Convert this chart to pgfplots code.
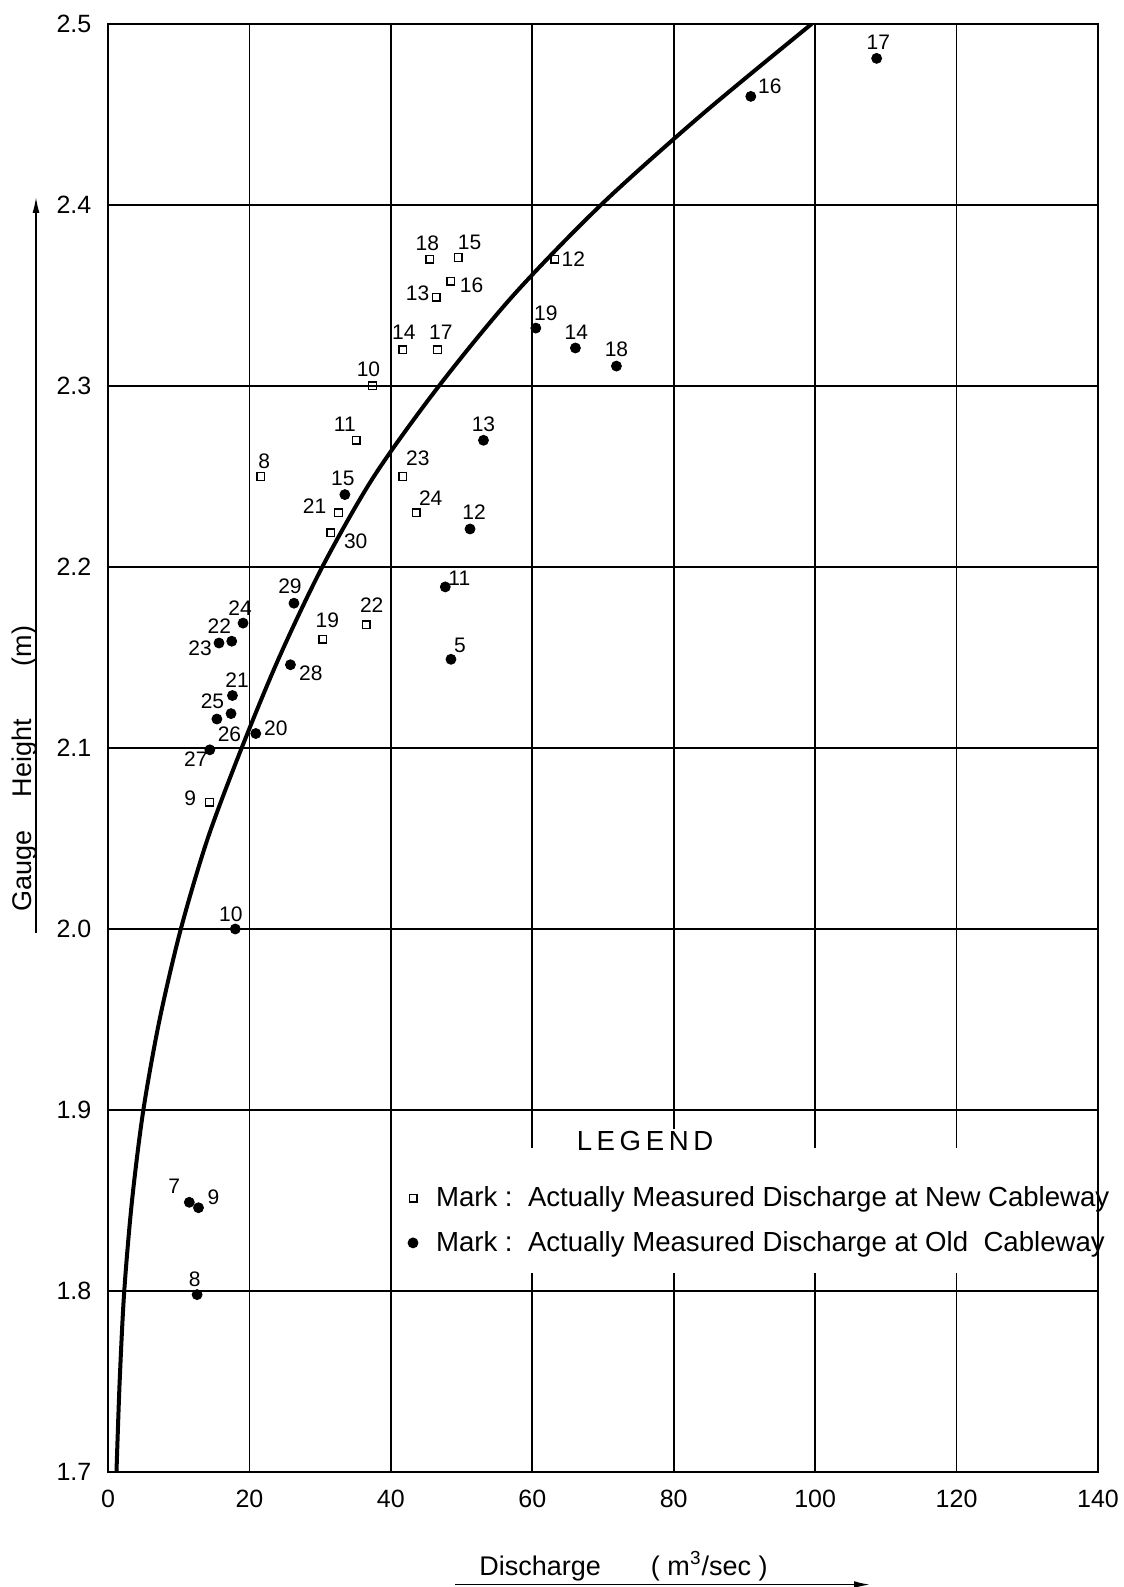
\documentclass[border=0pt]{standalone}
\usepackage{fontspec}
\setmainfont{Liberation Sans}
\usepackage{pgfplots}
\pgfplotsset{compat=1.18}
\usetikzlibrary{arrows.meta}
\newcommand\ptf{\fontsize{10.5}{12}\selectfont}
\newcommand\tkf{\fontsize{12.5}{15}\selectfont}
\newcommand\legf{\fontsize{13.8}{16.5}\selectfont}
\newcommand\labf{\fontsize{13.5}{16}\selectfont}
\newcommand\lbl[5]{\node[font=\ptf,inner sep=0pt,xshift=#3pt,yshift=#4pt] at (axis cs:#1,#2) {#5};}

\begin{document}
\begin{tikzpicture}
\begin{axis}[
 at={(0pt,0pt)}, anchor=south west,
 scale only axis, width=495pt, height=724pt,
 xmin=0, xmax=140, ymin=1.7, ymax=2.5,
 xtick={0,20,...,140},
 ytick={1.7,1.8,1.9,2.0,2.1,2.2,2.3,2.4,2.5},
 grid=major, major grid style={black, line width=0.8pt},
 axis line style={black, line width=1pt},
 tick style={draw=none},
 ticklabel style={font=\tkf},
 /pgf/number format/assume math mode=true,
 yticklabel style={/pgf/number format/fixed, /pgf/number format/fixed zerofill, /pgf/number format/precision=1, xshift=-4.8pt},
 xticklabel style={yshift=-5.3pt},
 legend style={at={(axis cs:42.37,1.8389)}, anchor=west, draw=none, fill=none,
   inner sep=0pt, row sep=10.8pt, column sep=9pt,
   nodes={inner sep=0pt, font=\legf}},
 legend cell align=left,
 legend image code/.code={\draw[#1] plot coordinates {(0pt,0pt)};},
]
% white gap in the grid behind the legend
\fill[white] (axis cs:40.4,1.81) rectangle (axis cs:139.5,1.879);

% rating curve
\addplot[smooth, line width=2pt, black, forget plot] coordinates {
 (1.2,1.70) (1.65,1.75) (2.3,1.80) (3.4,1.85) (5.0,1.90) (7.3,1.95)
 (10.3,2.00) (14.1,2.05) (18.9,2.10) (24.2,2.15) (30.3,2.20) (37.6,2.25)
 (46.8,2.30) (57.3,2.35) (69.7,2.40) (84.0,2.45) (99.5,2.50)};

% new cableway (squares)
\addplot[only marks, mark=square, mark size=1.9pt, black, mark options={line width=0.7pt, fill=white}] coordinates {
 (45.5,2.370) (49.5,2.371) (48.5,2.358) (46.4,2.349) (63.2,2.370)
 (41.7,2.320) (46.6,2.320) (37.4,2.300) (35.1,2.270) (21.6,2.250)
 (41.7,2.250) (32.6,2.230) (43.6,2.230) (31.5,2.219) (30.4,2.160)
 (36.5,2.168) (14.35,2.070)};
\addlegendentry{Mark\ :\ \ Actually Measured Discharge at New Cableway}

% old cableway (dots)
\addplot[only marks, mark=*, mark size=2.5pt, black] coordinates {
 (108.7,2.481) (90.9,2.460) (60.5,2.332) (66.1,2.321) (71.9,2.311)
 (53.1,2.270) (33.5,2.240) (51.2,2.221) (47.7,2.189) (48.5,2.149)
 (26.3,2.180) (19.1,2.169) (17.5,2.159) (15.7,2.158) (25.8,2.146)
 (17.6,2.129) (15.4,2.116) (17.4,2.119) (20.9,2.108) (14.4,2.099)
 (18.0,2.000) (11.5,1.849) (12.8,1.846) (12.6,1.798)};
\addlegendentry{Mark\ :\ \ Actually Measured Discharge at Old\ \ Cableway}

% labels, new cableway
\lbl{45.5}{2.370}{-1.2}{7.8}{18}
\lbl{49.5}{2.371}{5.8}{7.5}{15}
\lbl{48.5}{2.358}{10.3}{-2}{16}
\lbl{46.4}{2.349}{-9.3}{2}{13}
\lbl{63.2}{2.370}{9.2}{0}{12}
\lbl{41.7}{2.320}{0.5}{8.7}{14}
\lbl{46.6}{2.320}{1.7}{9}{17}
\lbl{37.4}{2.300}{-2}{8.3}{10}
\lbl{35.1}{2.270}{-5.7}{7.8}{11}
\lbl{21.6}{2.250}{1.7}{7.5}{8}
\lbl{41.7}{2.250}{7.5}{9.3}{23}
\lbl{32.6}{2.230}{-12}{3.3}{21}
\lbl{43.6}{2.230}{7.2}{7.5}{24}
\lbl{31.5}{2.219}{12.5}{-4.2}{30}
\lbl{30.4}{2.160}{2.2}{9.5}{19}
\lbl{36.5}{2.168}{2.8}{9.7}{22}
\lbl{14.35}{2.070}{-9.6}{2}{9}
% labels, old cableway
\lbl{108.7}{2.481}{0.8}{8.3}{17}
\lbl{90.9}{2.460}{9.5}{5}{16}
\lbl{60.5}{2.332}{5}{7.5}{19}
\lbl{66.1}{2.321}{0.5}{8}{14}
\lbl{71.9}{2.311}{0}{8.6}{18}
\lbl{53.1}{2.270}{0}{8.2}{13}
\lbl{33.5}{2.240}{-1}{8.3}{15}
\lbl{51.2}{2.221}{2}{8.3}{12}
\lbl{47.7}{2.189}{7}{4.5}{11}
\lbl{48.5}{2.149}{4.5}{6.8}{5}
\lbl{26.3}{2.180}{-2}{8.3}{29}
\lbl{19.1}{2.169}{-1.5}{7.3}{24}
\lbl{17.5}{2.159}{-6.2}{7.5}{22}
\lbl{15.7}{2.158}{-9.5}{-2.5}{23}
\lbl{25.8}{2.146}{10.2}{-4.2}{28}
\lbl{17.6}{2.129}{2.3}{7.8}{21}
\lbl{15.4}{2.116}{-2.2}{9}{25}
\lbl{17.4}{2.119}{-0.8}{-10.3}{26}
\lbl{20.9}{2.108}{10}{2.5}{20}
\lbl{14.4}{2.099}{-7}{-4.7}{27}
\lbl{18.0}{2.000}{-2.2}{7.2}{10}
\lbl{11.5}{1.849}{-7.5}{7.8}{7}
\lbl{12.8}{1.846}{7.5}{5}{9}
\lbl{12.6}{1.798}{-1.2}{7.5}{8}
\end{axis}
% legend title
\node[font=\legf, fill=white, inner sep=1pt] at (268.5pt,165.5pt) {L\,E\,G\,E\,N\,D};
% axis titles with arrows
\node[rotate=90, anchor=base, font=\labf] at (-38pt,351.75pt) {Gauge\hspace{16.5pt}Height\hspace{26.5pt}(m)};
\draw[line width=0.8pt, -{Latex[length=8pt,width=3.5pt]}] (-36pt,269.5pt) -- (-36pt,637.5pt);
\node[anchor=base, font=\labf] at (257.75pt,-51.5pt) {Discharge\hspace{25pt}( m\textsuperscript{3}/sec )};
\draw[line width=0.8pt, -{Latex[length=8pt,width=3.5pt]}] (173.5pt,-56.3pt) -- (381pt,-56.3pt);
\pgfresetboundingbox
\useasboundingbox (-54pt,-57.5pt) rectangle (508pt,736pt);
\end{tikzpicture}
\end{document}
